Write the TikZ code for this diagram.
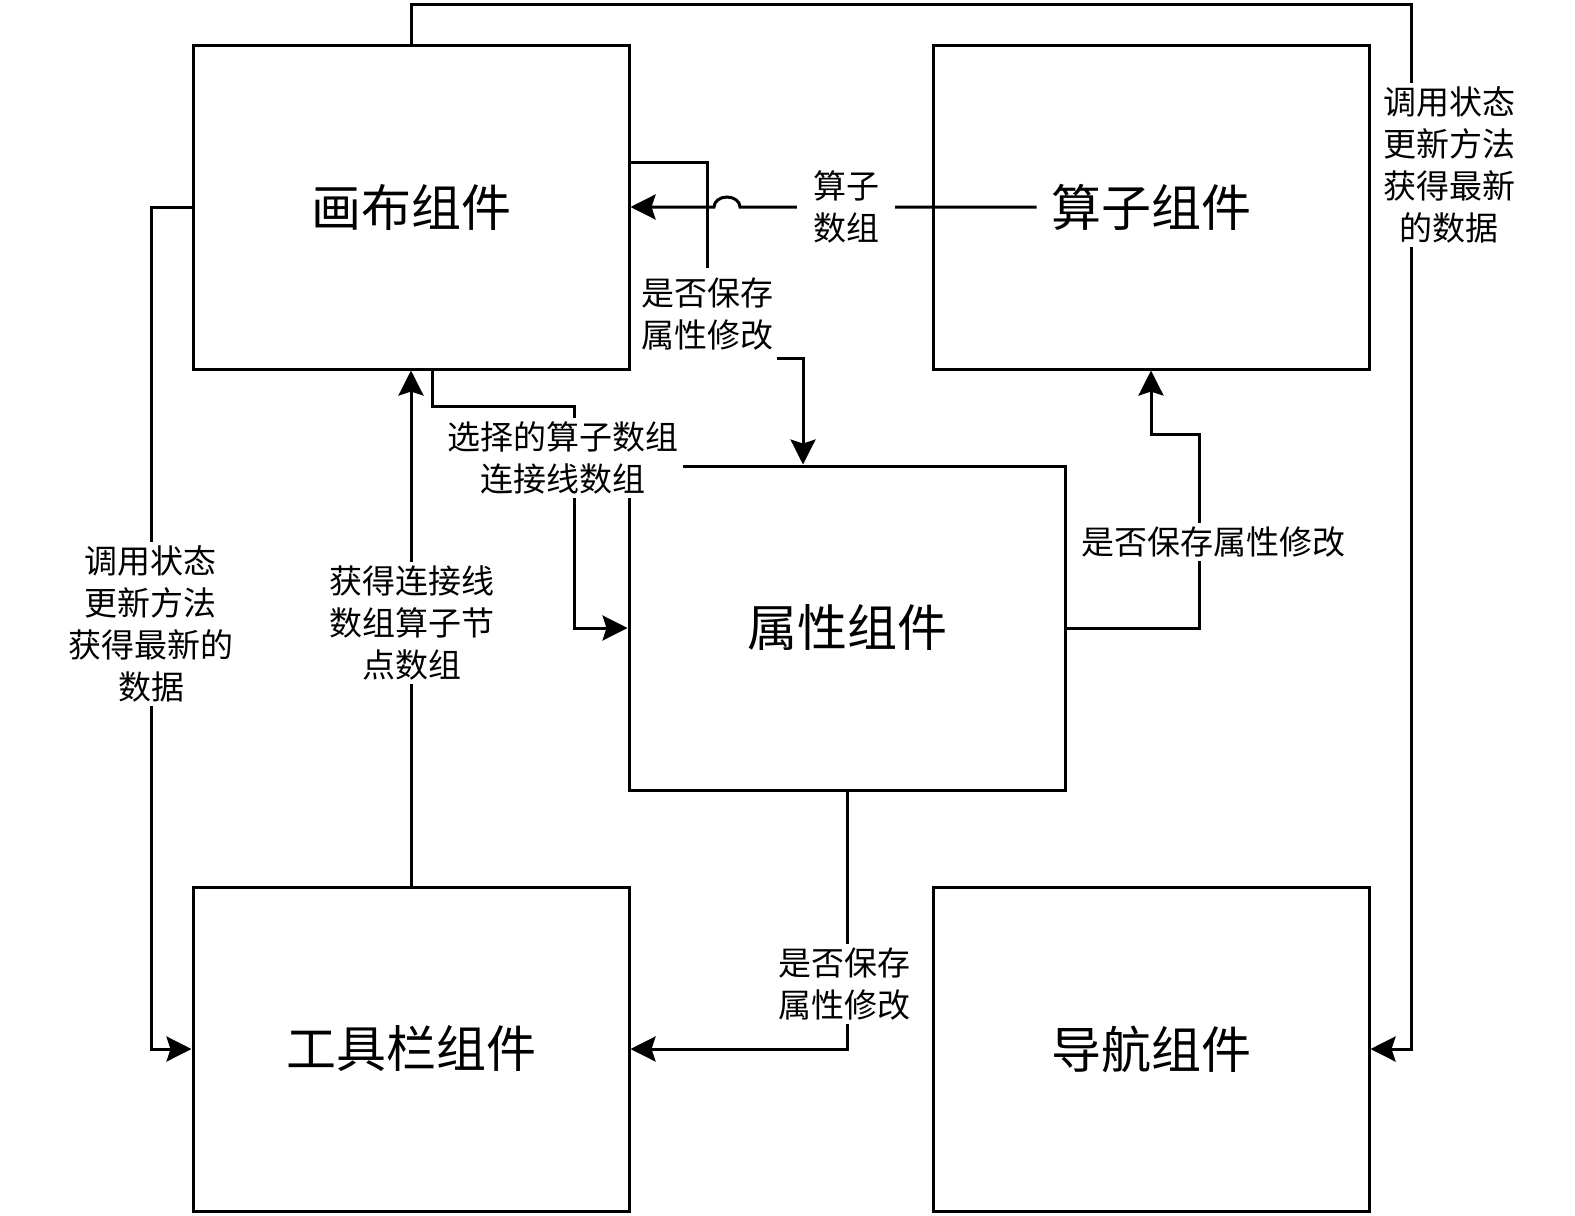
\documentclass[tikz,border=0pt]{standalone}
\usepackage{fontspec}
\setmainfont{Noto Sans CJK SC}
\usetikzlibrary{arrows.meta,calc}
\begin{document}
\begin{tikzpicture}[x=0.5pt,y=-0.5pt,
  box/.style={draw, line width=1.5pt, minimum width=218pt, minimum height=162pt, inner sep=0pt,
    font=\fontsize{25}{30}\selectfont},
  bigtext/.style={inner sep=7pt, font=\fontsize{25}{30}\selectfont},
  conn/.style={line width=1.5pt},
  arr/.style={conn, -{Stealth[length=12.5pt,width=12.5pt,inset=2pt]}},
  lbl/.style={fill=white, inner sep=2pt, align=center, font=\fontsize{16.5}{21}\selectfont}]
\useasboundingbox (0,0) rectangle (1575,1216);

% boxes
\node[box] (canvas) at (411,207) {画布组件};
\node[box] (op) at (1151,207) {};
\node[bigtext] (optext) at (1151,207) {算子组件};
\node[box] (prop) at (847,628) {属性组件};
\node[box] (tool) at (411,1049) {工具栏组件};
\node[box] (nav) at (1151,1049) {导航组件};

% 1: canvas top -> nav right
\draw[arr] (canvas.north) -- (411,4) -- (1411,4) |- (nav.east);
\node[lbl] (l1) at (1449,165) {调用状态\\更新方法\\获得最新\\的数据};

% 2: op -> canvas with hop
\draw[arr] (optext.west) -- (740,207) arc[start angle=0,end angle=-180,x radius=13,y radius=10] -- (canvas.east);
\node[lbl, inner xsep=8pt] (l2) at (846,207) {算子\\数组};

% 3: canvas -> prop top
\draw[arr] ($(canvas.east)+(0,-45)$) -- (707,162) -- (707,358) -- (803,358) -- (prop.north -| 803,0);
\node[lbl, inner ysep=5pt] (l3) at (707,314) {是否保存\\属性修改};

% 4: canvas bottom -> prop left
\draw[arr] (canvas.south -| 432,0) -- (432,406) -- (574,406) |- (prop.west);
\node[lbl] (l4) at (563,458) {选择的算子数组\\连接线数组};

% 5: tool -> canvas
\draw[arr] (tool.north) -- (canvas.south);
\node[lbl] (l5) at (412,623) {获得连接线\\数组算子节\\点数组};

% 6: canvas left -> tool left
\draw[arr] (canvas.west) -- (151,207) |- (tool.west);
\node[lbl] (l6) at (151,624) {调用状态\\更新方法\\获得最新的\\数据};

% 7: prop bottom -> tool right
\draw[arr] (prop.south) |- (tool.east);
\node[lbl] (l7) at (844,984) {是否保存\\属性修改};

% 8: prop right -> op bottom
\draw[arr] (prop.east) -- (1199,628) -- (1199,434) -| (op.south);
\node[lbl] (l8) at (1213,542) {是否保存属性修改};
\end{tikzpicture}
\end{document}
